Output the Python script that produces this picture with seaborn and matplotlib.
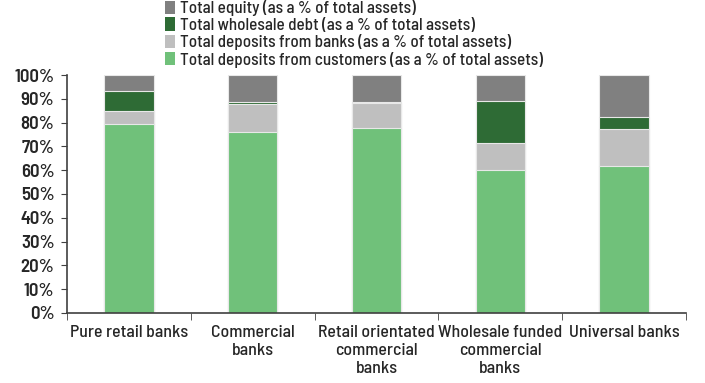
import matplotlib
matplotlib.use("Agg")
import matplotlib.pyplot as plt
import seaborn as sns
import pandas as pd
import numpy as np
from matplotlib.patches import Patch
from matplotlib.ticker import FixedLocator, PercentFormatter

categories = ["Pure retail banks", "Commercial\nbanks", "Retail orientated\ncommercial\nbanks",
              "Wholesale funded\ncommercial\nbanks", "Universal banks"]
deposits_customers = [79.5, 76.2, 77.9, 60.2, 61.9]
deposits_banks = [5.4, 11.6, 10.5, 11.1, 15.5]
wholesale_debt = [8.5, 1.0, 0.4, 17.9, 5.1]
equity = [6.6, 11.2, 11.2, 10.8, 17.5]

series_names = ["Total deposits from customers (as a % of total assets)",
                "Total deposits from banks (as a % of total assets)",
                "Total wholesale debt (as a % of total assets)",
                "Total equity (as a % of total assets)"]
colors = ["#70c17a", "#bfbfbf", "#2e6b35", "#808080"]

sns.set_style("white")
plt.rcParams["font.family"] = ["Barlow Semi Condensed", "Asap Condensed", "DejaVu Sans"]
plt.rcParams["font.weight"] = 500

df = pd.DataFrame({"cat": categories,
                   "s0": deposits_customers, "s1": deposits_banks,
                   "s2": wholesale_debt, "s3": equity})
layers = ["s0", "s1", "s2", "s3"]
cum = df[layers].cumsum(axis=1)

fig = plt.figure(figsize=(7.05, 3.83), dpi=100)
ax = fig.add_axes([0.095, 0.183, 0.878, 0.621])

# stacked bars: draw cumulative totals from the top layer down
for i in range(len(layers) - 1, -1, -1):
    sns.barplot(x=df["cat"], y=cum[layers[i]], color=colors[i], width=0.4,
                edgecolor="#e8e8e8", linewidth=0.8, saturation=1, ax=ax)

ax.set_ylim(0, 100)
ax.set_xlim(-0.5, len(categories) - 0.5)
ax.set_yticks(np.arange(0, 101, 10))
ax.yaxis.set_major_formatter(PercentFormatter(decimals=0))
ax.set_xlabel("")
ax.set_ylabel("")
ax.tick_params(axis="y", labelsize=13.5, length=4, direction="out", left=True, color="#404040", pad=5)
for lbl in ax.get_yticklabels():
    lbl.set_fontweight(600)
ax.tick_params(axis="x", which="major", labelsize=12.8, length=0, pad=9)
ax.xaxis.set_minor_locator(FixedLocator(np.arange(-0.5, len(categories), 1.0)))
ax.tick_params(axis="x", which="minor", length=5, direction="out", bottom=True, color="#404040")
for lbl in ax.get_xticklabels():
    lbl.set_verticalalignment("top")
    lbl.set_linespacing(1.25)
sns.despine(ax=ax)
for s in ("left", "bottom"):
    ax.spines[s].set_color("#404040")
    ax.spines[s].set_linewidth(1.2)

handles = [Patch(facecolor=colors[i], edgecolor="none", label=series_names[i]) for i in range(3, -1, -1)]
fig.legend(handles=handles, loc="upper left", bbox_to_anchor=(0.222, 1.022), frameon=False,
           fontsize=12.3, handlelength=0.6, handleheight=0.8, handletextpad=0.25,
           labelspacing=0.08, borderpad=0.0)

fig.savefig("out.png", dpi=100)
